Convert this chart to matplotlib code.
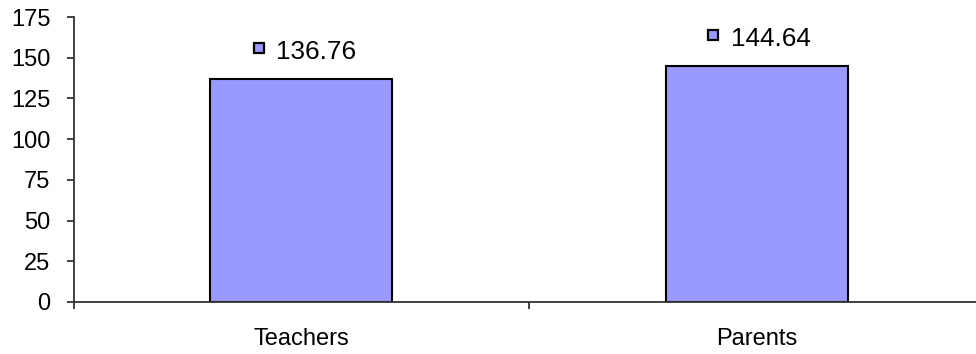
import matplotlib
matplotlib.use('Agg')
import matplotlib.pyplot as plt
from matplotlib.transforms import offset_copy

# data
groups = ['Teachers', 'Parents']
scores = [136.76, 144.64]
yticks = [0, 25, 50, 75, 100, 125, 150, 175]

plt.rcParams['font.family'] = ['Liberation Sans', 'DejaVu Sans']

fig = plt.figure(figsize=(9.76, 3.54), dpi=100)
ax = fig.add_axes([74/976, 52/354, 910/976, 285/354])

xpos = [i + 0.5 for i in range(len(groups))]
barcol = '#9999FF'
ax.bar(xpos, scores, width=0.40, color=barcol, edgecolor='black', linewidth=1.5, zorder=2)

# data labels with the little legend-key square
for x, v in zip(xpos, scores):
    ax.annotate('{:.2f}'.format(v), xy=(x, v), xytext=(-25, 27), textcoords='offset pixels',
                ha='left', va='center', fontsize=18.8, color='black')
    tr = offset_copy(ax.transData, fig=fig, x=-43, y=31, units='dots')
    ax.plot([x], [v], marker='s', ms=6.5, mfc=barcol, mec='black', mew=1.6, transform=tr,
            clip_on=False, zorder=3)

ax.set_xlim(0, len(groups))
ax.set_ylim(0, 175)
ax.set_yticks(yticks)
ax.set_xticks(xpos)
ax.set_xticklabels(groups)
ax.set_xticks(range(len(groups) + 1), minor=True)

for s in ['top', 'right']:
    ax.spines[s].set_visible(False)
for s in ['left', 'bottom']:
    ax.spines[s].set_color('#333333')
    ax.spines[s].set_linewidth(1.3)

ax.tick_params(axis='y', length=5, width=1.3, color='#333333', pad=12, labelsize=17)
ax.tick_params(axis='x', which='major', length=0, pad=19, labelsize=17)
ax.tick_params(axis='x', which='minor', length=5, width=1.3, color='#333333')

fig.savefig('out.png', dpi=100)
